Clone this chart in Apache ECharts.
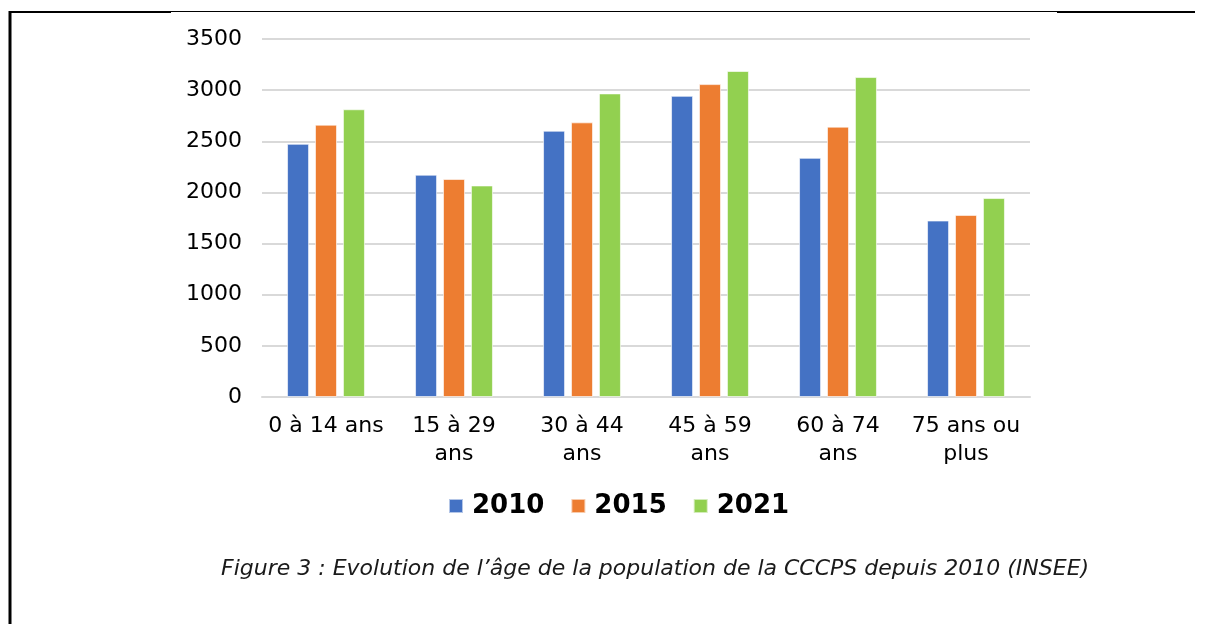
<!DOCTYPE html>
<html>
<head>
<meta charset="utf-8">
<script src="https://cdn.jsdelivr.net/npm/echarts@6/dist/echarts.min.js"></script>
<style>
  html, body { margin: 0; padding: 0; background: #fff; }
  #chart { width: 1205px; height: 624px; }
</style>
</head>
<body>
<div id="chart"></div>
<script>
// tranches d'âge
var categories = ['0 à 14 ans', '15 à 29\nans', '30 à 44\nans', '45 à 59\nans', '60 à 74\nans', '75 ans ou\nplus'];
var years = ['2010', '2015', '2021'];
var values2010 = [2475, 2173, 2603, 2944, 2338, 1725];
var values2015 = [2662, 2131, 2685, 3059, 2643, 1780];
var values2021 = [2813, 2068, 2968, 3187, 3128, 1945];
var yTicks = [0, 500, 1000, 1500, 2000, 2500, 3000, 3500];
var caption = 'Figure 3 : Evolution de l\u2019âge de la population de la CCCPS depuis 2010 (INSEE)';

var colors = ['#4472C4', '#ED7D31', '#92D050'];
var font = 'DejaVu Sans, Verdana, sans-serif';

function bar(name, data, color) {
    return {
        name: name,
        type: 'bar',
        data: data,
        barWidth: 22,
        barGap: '27%',
        itemStyle: {
            color: color,
            borderColor: 'rgba(255,255,255,0.6)',
            borderWidth: 1
        }
    };
}

var option = {
    animation: false,
    color: colors,
    title: {
        text: caption,
        left: 216,
        top: 553,
        textStyle: {
            fontFamily: font,
            fontStyle: 'italic',
            fontWeight: 'normal',
            fontSize: 22,
            color: '#1a1a1a'
        }
    },
    legend: {
        data: years,
        top: 493,
        left: 448,
        padding: 0,
        itemWidth: 14,
        itemHeight: 14,
        itemGap: 26,
        icon: 'rect',
        textStyle: {
            fontFamily: font,
            fontWeight: 'bold',
            fontSize: 26,
            color: '#000',
            padding: [0, 0, 0, 4]
        }
    },
    grid: {
        left: 262,
        right: 175,
        top: 39,
        bottom: 227,
        containLabel: false
    },
    xAxis: {
        type: 'category',
        data: categories,
        axisLine: { lineStyle: { color: '#d9d9d9', width: 2 } },
        axisTick: { show: false },
        axisLabel: {
            fontFamily: font,
            fontSize: 22,
            color: '#000',
            margin: 15,
            lineHeight: 28,
            interval: 0
        }
    },
    yAxis: {
        type: 'value',
        min: yTicks[0],
        max: yTicks[yTicks.length - 1],
        interval: 500,
        axisLine: { show: false },
        axisTick: { show: false },
        splitLine: { lineStyle: { color: '#d9d9d9', width: 2 } },
        axisLabel: {
            fontFamily: font,
            fontSize: 22,
            color: '#000',
            margin: 20,
            formatter: function (v) { return String(v); }
        }
    },
    series: [
        bar(years[0], values2010, colors[0]),
        bar(years[1], values2015, colors[1]),
        bar(years[2], values2021, colors[2])
    ],
    graphic: [
        // cadre de la page
        { type: 'line', shape: { x1: 10, y1: 11, x2: 10, y2: 624 }, style: { stroke: '#000', lineWidth: 3 } },
        { type: 'line', shape: { x1: 9, y1: 12, x2: 171, y2: 12 }, style: { stroke: '#000', lineWidth: 2 } },
        { type: 'line', shape: { x1: 171, y1: 11.5, x2: 1057, y2: 11.5 }, style: { stroke: '#000', lineWidth: 1 } },
        { type: 'line', shape: { x1: 1057, y1: 12, x2: 1195, y2: 12 }, style: { stroke: '#000', lineWidth: 2 } }
    ]
};

var myChart = echarts.init(document.getElementById('chart'));
myChart.setOption(option);
</script>
</body>
</html>
